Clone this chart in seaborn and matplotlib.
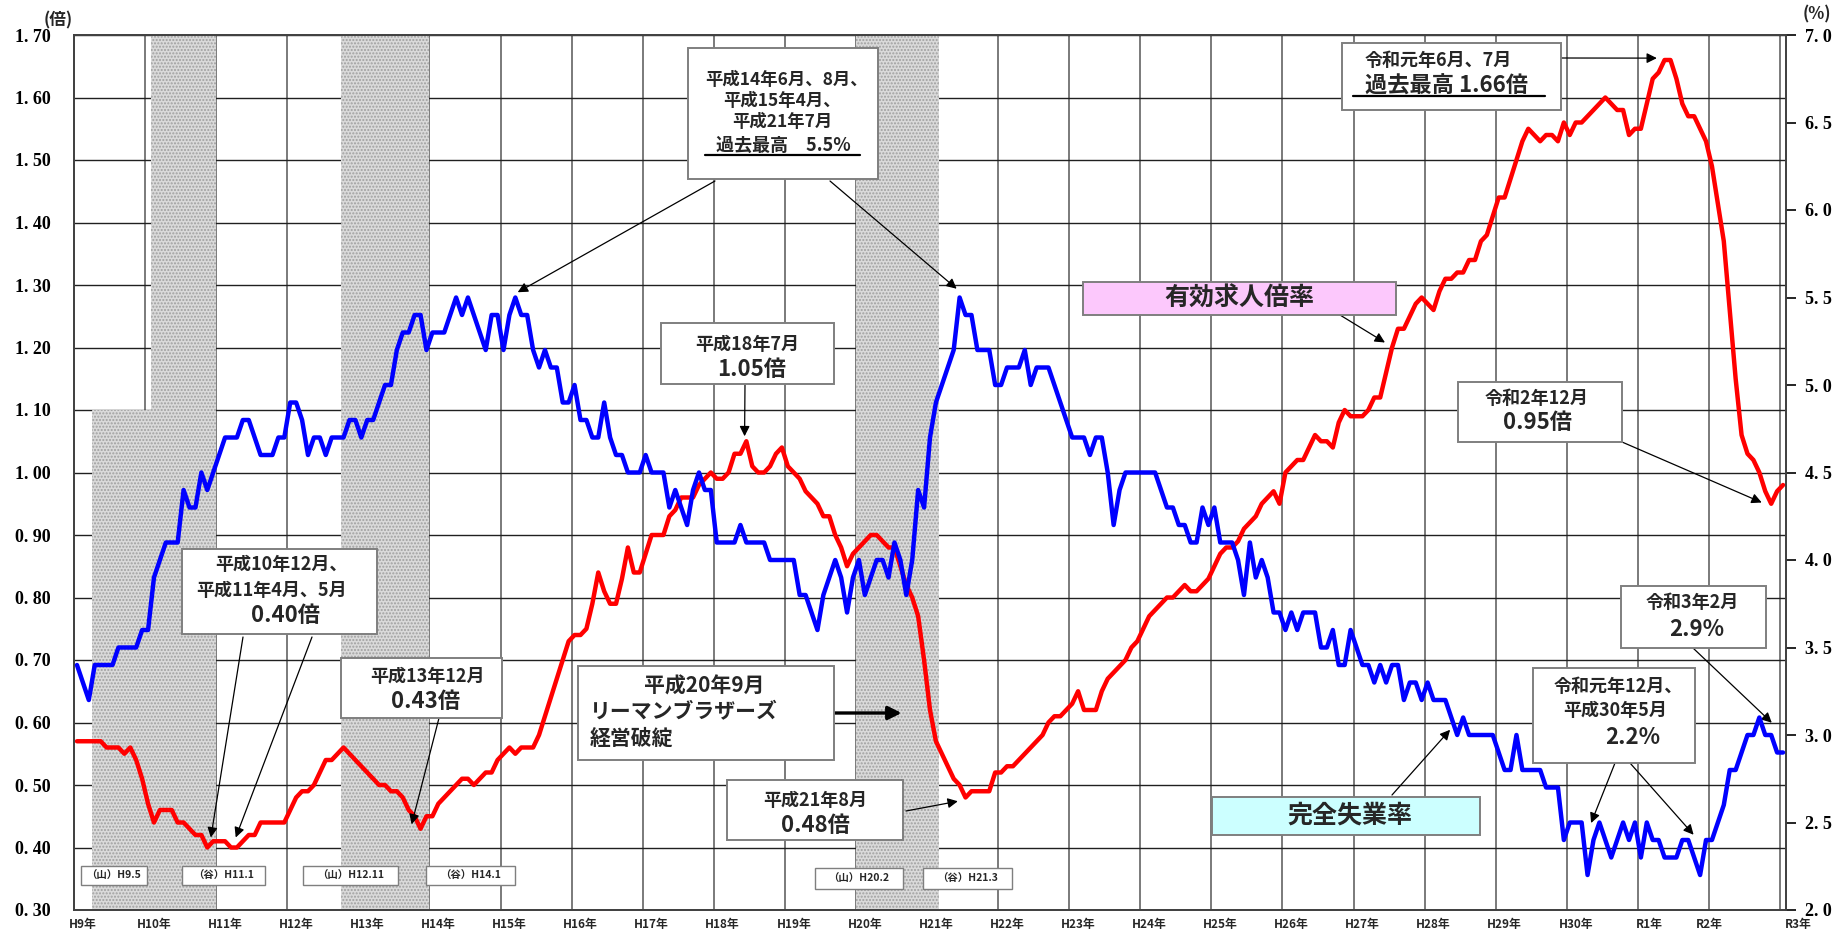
import numpy as np
import pandas as pd
import seaborn as sns
import matplotlib.pyplot as plt
from matplotlib.patches import Rectangle
from matplotlib.lines import Line2D

# ---- monthly data, 1997 Feb (month 1) to 2021 Feb (month 289) ----
# 有効求人倍率 (left axis, 倍)
ratio_1997 = [0.57, 0.57, 0.57, 0.57, 0.57, 0.56, 0.56, 0.56, 0.55, 0.56, 0.54]
ratio_1998 = [0.51, 0.47, 0.44, 0.46, 0.46, 0.46, 0.44, 0.44, 0.43, 0.42, 0.42, 0.40]
ratio_1999 = [0.41, 0.41, 0.41, 0.40, 0.40, 0.41, 0.42, 0.42, 0.44, 0.44, 0.44, 0.44]
ratio_2000 = [0.44, 0.46, 0.48, 0.49, 0.49, 0.50, 0.52, 0.54, 0.54, 0.55, 0.56, 0.55]
ratio_2001 = [0.54, 0.53, 0.52, 0.51, 0.50, 0.50, 0.49, 0.49, 0.48, 0.46, 0.45, 0.43]
ratio_2002 = [0.45, 0.45, 0.47, 0.48, 0.49, 0.50, 0.51, 0.51, 0.50, 0.51, 0.52, 0.52]
ratio_2003 = [0.54, 0.55, 0.56, 0.55, 0.56, 0.56, 0.56, 0.58, 0.61, 0.64, 0.67, 0.70]
ratio_2004 = [0.73, 0.74, 0.74, 0.75, 0.79, 0.84, 0.81, 0.79, 0.79, 0.83, 0.88, 0.84]
ratio_2005 = [0.84, 0.87, 0.90, 0.90, 0.90, 0.93, 0.94, 0.96, 0.96, 0.96, 0.98, 0.99]
ratio_2006 = [1.00, 0.99, 0.99, 1.00, 1.03, 1.03, 1.05, 1.01, 1.00, 1.00, 1.01, 1.03]
ratio_2007 = [1.04, 1.01, 1.00, 0.99, 0.97, 0.96, 0.95, 0.93, 0.93, 0.90, 0.88, 0.85]
ratio_2008 = [0.87, 0.88, 0.89, 0.90, 0.90, 0.89, 0.88, 0.88, 0.85, 0.82, 0.80, 0.77]
ratio_2009 = [0.70, 0.62, 0.57, 0.55, 0.53, 0.51, 0.50, 0.48, 0.49, 0.49, 0.49, 0.49]
ratio_2010 = [0.52, 0.52, 0.53, 0.53, 0.54, 0.55, 0.56, 0.57, 0.58, 0.60, 0.61, 0.61]
ratio_2011 = [0.62, 0.63, 0.65, 0.62, 0.62, 0.62, 0.65, 0.67, 0.68, 0.69, 0.70, 0.72]
ratio_2012 = [0.73, 0.75, 0.77, 0.78, 0.79, 0.80, 0.80, 0.81, 0.82, 0.81, 0.81, 0.82]
ratio_2013 = [0.83, 0.85, 0.87, 0.88, 0.88, 0.89, 0.91, 0.92, 0.93, 0.95, 0.96, 0.97]
ratio_2014 = [0.95, 1.00, 1.01, 1.02, 1.02, 1.04, 1.06, 1.05, 1.05, 1.04, 1.08, 1.10]
ratio_2015 = [1.09, 1.09, 1.09, 1.10, 1.12, 1.12, 1.16, 1.20, 1.23, 1.23, 1.25, 1.27]
ratio_2016 = [1.28, 1.27, 1.26, 1.29, 1.31, 1.31, 1.32, 1.32, 1.34, 1.34, 1.37, 1.38]
ratio_2017 = [1.41, 1.44, 1.44, 1.47, 1.50, 1.53, 1.55, 1.54, 1.53, 1.54, 1.54, 1.53]
ratio_2018 = [1.56, 1.54, 1.56, 1.56, 1.57, 1.58, 1.59, 1.60, 1.59, 1.58, 1.58, 1.54]
ratio_2019 = [1.55, 1.55, 1.59, 1.63, 1.64, 1.66, 1.66, 1.63, 1.59, 1.57, 1.57, 1.55]
ratio_2020 = [1.53, 1.49, 1.43, 1.37, 1.26, 1.15, 1.06, 1.03, 1.02, 1.00, 0.97, 0.95]
ratio_2021 = [0.97, 0.98]

# 完全失業率 (right axis, %)
unemp_1997 = [3.4, 3.3, 3.2, 3.4, 3.4, 3.4, 3.4, 3.5, 3.5, 3.5, 3.5]
unemp_1998 = [3.6, 3.6, 3.9, 4.0, 4.1, 4.1, 4.1, 4.4, 4.3, 4.3, 4.5, 4.4]
unemp_1999 = [4.5, 4.6, 4.7, 4.7, 4.7, 4.8, 4.8, 4.7, 4.6, 4.6, 4.6, 4.7]
unemp_2000 = [4.7, 4.9, 4.9, 4.8, 4.6, 4.7, 4.7, 4.6, 4.7, 4.7, 4.7, 4.8]
unemp_2001 = [4.8, 4.7, 4.8, 4.8, 4.9, 5.0, 5.0, 5.2, 5.3, 5.3, 5.4, 5.4]
unemp_2002 = [5.2, 5.3, 5.3, 5.3, 5.4, 5.5, 5.4, 5.5, 5.4, 5.3, 5.2, 5.4]
unemp_2003 = [5.4, 5.2, 5.4, 5.5, 5.4, 5.4, 5.2, 5.1, 5.2, 5.1, 5.1, 4.9]
unemp_2004 = [4.9, 5.0, 4.8, 4.8, 4.7, 4.7, 4.9, 4.7, 4.6, 4.6, 4.5, 4.5]
unemp_2005 = [4.5, 4.6, 4.5, 4.5, 4.5, 4.3, 4.4, 4.3, 4.2, 4.4, 4.5, 4.4]
unemp_2006 = [4.4, 4.1, 4.1, 4.1, 4.1, 4.2, 4.1, 4.1, 4.1, 4.1, 4.0, 4.0]
unemp_2007 = [4.0, 4.0, 4.0, 3.8, 3.8, 3.7, 3.6, 3.8, 3.9, 4.0, 3.9, 3.7]
unemp_2008 = [3.9, 4.0, 3.8, 3.9, 4.0, 4.0, 3.9, 4.1, 4.0, 3.8, 4.0, 4.4]
unemp_2009 = [4.3, 4.7, 4.9, 5.0, 5.1, 5.2, 5.5, 5.4, 5.4, 5.2, 5.2, 5.2]
unemp_2010 = [5.0, 5.0, 5.1, 5.1, 5.1, 5.2, 5.0, 5.1, 5.1, 5.1, 5.0, 4.9]
unemp_2011 = [4.8, 4.7, 4.7, 4.7, 4.6, 4.7, 4.7, 4.5, 4.2, 4.4, 4.5, 4.5]
unemp_2012 = [4.5, 4.5, 4.5, 4.5, 4.4, 4.3, 4.3, 4.2, 4.2, 4.1, 4.1, 4.3]
unemp_2013 = [4.2, 4.3, 4.1, 4.1, 4.1, 4.0, 3.8, 4.1, 3.9, 4.0, 3.9, 3.7]
unemp_2014 = [3.7, 3.6, 3.7, 3.6, 3.7, 3.7, 3.7, 3.5, 3.5, 3.6, 3.4, 3.4]
unemp_2015 = [3.6, 3.5, 3.4, 3.4, 3.3, 3.4, 3.3, 3.4, 3.4, 3.2, 3.3, 3.3]
unemp_2016 = [3.2, 3.3, 3.2, 3.2, 3.2, 3.1, 3.0, 3.1, 3.0, 3.0, 3.0, 3.0]
unemp_2017 = [3.0, 2.9, 2.8, 2.8, 3.0, 2.8, 2.8, 2.8, 2.8, 2.7, 2.7, 2.7]
unemp_2018 = [2.4, 2.5, 2.5, 2.5, 2.2, 2.4, 2.5, 2.4, 2.3, 2.4, 2.5, 2.4]
unemp_2019 = [2.5, 2.3, 2.5, 2.4, 2.4, 2.3, 2.3, 2.3, 2.4, 2.4, 2.3, 2.2]
unemp_2020 = [2.4, 2.4, 2.5, 2.6, 2.8, 2.8, 2.9, 3.0, 3.0, 3.1, 3.0, 3.0]
unemp_2021 = [2.9, 2.9]

# 景気の山・谷 (month index, 1997 Jan = 0)
peak_months = [4, 46, 133]      # H9.5, H12.11, H20.2
trough_months = [24, 60, 146]   # H11.1, H14.1, H21.3
peak_labels = ['（山）H9.5', '（山）H12.11', '（山）H20.2']
trough_labels = ['（谷）H11.1', '（谷）H14.1', '（谷）H21.3']

year_labels = ['H%d年' % y for y in range(9, 31)] + ['R1年', 'R2年', 'R3年']
year_label_pos = [12 * k + 2 for k in range(22)] + [266.5, 276.5, 291.5]

ratio = sum([ratio_1997, ratio_1998, ratio_1999, ratio_2000, ratio_2001, ratio_2002,
             ratio_2003, ratio_2004, ratio_2005, ratio_2006, ratio_2007, ratio_2008,
             ratio_2009, ratio_2010, ratio_2011, ratio_2012, ratio_2013, ratio_2014,
             ratio_2015, ratio_2016, ratio_2017, ratio_2018, ratio_2019, ratio_2020,
             ratio_2021], [])
unemp = sum([unemp_1997, unemp_1998, unemp_1999, unemp_2000, unemp_2001, unemp_2002,
             unemp_2003, unemp_2004, unemp_2005, unemp_2006, unemp_2007, unemp_2008,
             unemp_2009, unemp_2010, unemp_2011, unemp_2012, unemp_2013, unemp_2014,
             unemp_2015, unemp_2016, unemp_2017, unemp_2018, unemp_2019, unemp_2020,
             unemp_2021], [])
df = pd.DataFrame({'month': np.arange(1, len(ratio) + 1), 'ratio': ratio, 'unemp': unemp})

# ---- figure ----
W, H = 1847, 931
sns.set_theme(style='white')
plt.rcParams['font.family'] = ['Noto Sans CJK JP', 'DejaVu Sans']
plt.rcParams['hatch.linewidth'] = 1.0

fig = plt.figure(figsize=(W / 100, H / 100), dpi=100)
fig.patch.set_facecolor('white')
ax = fig.add_axes([74 / W, 1 - 910 / H, (1786 - 74) / W, (910 - 35) / H])
ax2 = ax.twinx()

def fx(x):
    return x / W

def fy(y):
    return 1 - y / H

# recession shading (stippled)
shade = dict(facecolor='#dadada', edgecolor='#a0a0a0', hatch='.....', linewidth=0, zorder=1)
cut = (1.10 - 0.30) / 1.40
for p, t in zip(peak_months, trough_months):
    if p == peak_months[0]:
        ax.axvspan(p - 0.5, t + 0.5, ymin=0, ymax=cut, **shade)
        ax.axvspan(13.5, t + 0.5, ymin=cut, ymax=1, **shade)
    else:
        ax.axvspan(p - 0.5, t + 0.5, **shade)

sns.lineplot(data=df, x='month', y='ratio', ax=ax, color='#ff0000', linewidth=3.2, zorder=4)
sns.lineplot(data=df, x='month', y='unemp', ax=ax2, color='#0000ff', linewidth=3.2, zorder=4)

ax.set_xlim(0.5, 289.5)
ax.set_ylim(0.30, 1.70)
ax2.set_ylim(2.0, 7.0)
ax.set_xlabel('')
ax.set_ylabel('')
ax2.set_ylabel('')

left_ticks = np.round(np.arange(0.30, 1.701, 0.10), 2)
ax.set_yticks(left_ticks)
ax.set_yticklabels([('%.2f' % v).replace('.', '. ') for v in left_ticks],
                   fontfamily='Liberation Serif', fontweight='bold', fontsize=13)
right_ticks = np.round(np.arange(2.0, 7.01, 0.5), 1)
ax2.set_yticks(right_ticks)
ax2.set_yticklabels([('%.1f' % v).replace('.', '. ') for v in right_ticks],
                    fontfamily='Liberation Serif', fontweight='bold', fontsize=13)
ax.tick_params(axis='y', length=0, pad=17, colors='black')
ax2.tick_params(axis='y', direction='out', length=7, width=1.2, pad=7, colors='black')

ax.set_xticks([12 * k + 0.5 for k in range(1, 25)])
ax.set_xticklabels([])
ax.tick_params(axis='x', length=0)

ax.set_axisbelow(True)
ax.xaxis.grid(True, color='#707070', linewidth=1.3)
ax.yaxis.grid(True, color='#202020', linewidth=1.0)
ax2.grid(False)
for sp in ax.spines.values():
    sp.set_color('#505050')
    sp.set_linewidth(1.3)
for sp in ax2.spines.values():
    sp.set_color('#404040')
    sp.set_linewidth(1.3)

# year labels under the axis
for lab, pos in zip(year_labels, year_label_pos):
    ax.text(pos, -0.017, lab, transform=ax.get_xaxis_transform(), ha='center', va='center',
            fontsize=8.5, fontweight='bold', clip_on=False)

fig.text(fx(58), fy(20), '(倍)', fontsize=12, fontweight='bold', ha='center', va='center')
fig.text(fx(1817), fy(14), '(%)', fontsize=12, fontweight='bold', ha='center', va='center')

# ---- annotation helpers ----
def box(x0, y0, x1, y1, fc='white', ec='#7f7f7f', lw=1.4):
    fig.add_artist(Rectangle((fx(x0), fy(y1)), (x1 - x0) / W, (y1 - y0) / H,
                             transform=fig.transFigure, facecolor=fc, edgecolor=ec,
                             linewidth=lw, zorder=5))

def txt(x, y, s, size, ha='center'):
    fig.text(fx(x), fy(y), s, fontsize=size, fontweight='bold', ha=ha, va='center', zorder=6)

def underline(x0, x1, y):
    fig.add_artist(Line2D([fx(x0), fx(x1)], [fy(y), fy(y)], transform=fig.transFigure,
                          color='black', linewidth=1.6, zorder=6))

def arrow(tail, head, axis, lw=0.9, ms=15):
    ax2.annotate('', xy=head, xycoords=axis.transData,
                 xytext=(fx(tail[0]), fy(tail[1])), textcoords='figure fraction',
                 arrowprops=dict(arrowstyle='-|>', color='black', lw=lw,
                                 mutation_scale=ms, shrinkA=0, shrinkB=0),
                 annotation_clip=False)

# 失業率 過去最高
box(688, 48, 878, 179)
txt(786, 80, '平成14年6月、8月、', 12.5)
txt(782, 101, '平成15年4月、', 12.5)
txt(782, 122, '平成21年7月', 12.5)
txt(783, 145, '過去最高　5.5%', 13)
underline(705, 860, 155)
arrow((715, 181), (75.4, 5.53), ax2)
arrow((830, 181), (149.5, 5.55), ax2)

# 平成18年7月
box(661, 323, 834, 384)
txt(747, 345, '平成18年7月', 13)
txt(752, 369, '1.05倍', 16)
arrow((745, 384), (113.7, 1.058), ax)

# 平成10年12月 …
box(182, 549, 377, 634)
txt(281, 565, '平成10年12月、', 13)
txt(272, 590, '平成11年4月、5月', 13)
txt(286, 615, '0.40倍', 16)
arrow((243, 637), (23.6, 0.416), ax)
arrow((312, 637), (27.8, 0.416), ax)

# 平成13年12月
box(341, 658, 502, 718)
txt(427, 677, '平成13年12月', 13)
txt(426, 701, '0.43倍', 16)
arrow((439, 718), (57.5, 0.437), ax)

# リーマンブラザーズ
box(578, 666, 834, 760)
txt(704, 686, '平成20年9月', 15)
txt(590, 712, 'リーマンブラザーズ', 15, ha='left')
txt(590, 738, '経営破綻', 15, ha='left')
ax2.annotate('', xy=(140.2, fy(713)), xycoords=('data', 'figure fraction'),
             xytext=(fx(834), fy(713)), textcoords='figure fraction',
             arrowprops=dict(arrowstyle='-|>', color='black', lw=2.4,
                             mutation_scale=20, shrinkA=0, shrinkB=0),
             annotation_clip=False)

# 平成21年8月
box(727, 780, 903, 840)
txt(815, 801, '平成21年8月', 13)
txt(815, 826, '0.48倍', 16)
arrow((906, 811), (149.7, 0.474), ax)

# series labels
box(1083, 282, 1396, 315, fc='#fcc8fc')
txt(1239, 299, '有効求人倍率', 18)
arrow((1340, 315), (221.8, 1.208), ax)
box(1212, 797, 1480, 835, fc='#ccffff')
txt(1350, 816, '完全失業率', 18)
arrow((1392, 795), (232.8, 3.03), ax2)

# 令和元年6月、7月
box(1342, 43, 1561, 110)
txt(1365, 60, '令和元年6月、7月', 13, ha='left')
txt(1365, 86, '過去最高 1.66倍', 16, ha='left')
underline(1353, 1545, 96)
arrow((1561, 58), (267.7, 1.663), ax)

# 令和2年12月
box(1458, 382, 1622, 442)
txt(1537, 398, '令和2年12月', 13)
txt(1538, 423, '0.95倍', 16)
arrow((1622, 442), (285.4, 0.952), ax)

# 令和3年2月
box(1621, 586, 1766, 648)
txt(1692, 603, '令和3年2月', 13)
txt(1697, 629, '2.9%', 16)
arrow((1693, 648), (287.1, 3.07), ax2)

# 令和元年12月、平成30年5月
box(1533, 668, 1695, 763)
txt(1618, 687, '令和元年12月、', 13)
txt(1615, 710, '平成30年5月', 13)
txt(1633, 737, '2.2%', 16)
arrow((1615, 763), (256.6, 2.497), ax2)
arrow((1630, 763), (273.9, 2.43), ax2)

# 景気の山・谷 labels
rec_boxes = [(81, 866, 147, 885), (182, 866, 265, 885), (303, 866, 398, 885),
             (426, 866, 515, 885), (815, 868, 903, 889), (923, 868, 1012, 889)]
rec_text = [peak_labels[0], trough_labels[0], peak_labels[1], trough_labels[1],
            peak_labels[2], trough_labels[2]]
for (x0, y0, x1, y1), s in zip(rec_boxes, rec_text):
    box(x0, y0, x1, y1, lw=1.0)
    txt((x0 + x1) / 2, (y0 + y1) / 2, s, 7.5)

fig.savefig('out.png', dpi=100, facecolor='white')
